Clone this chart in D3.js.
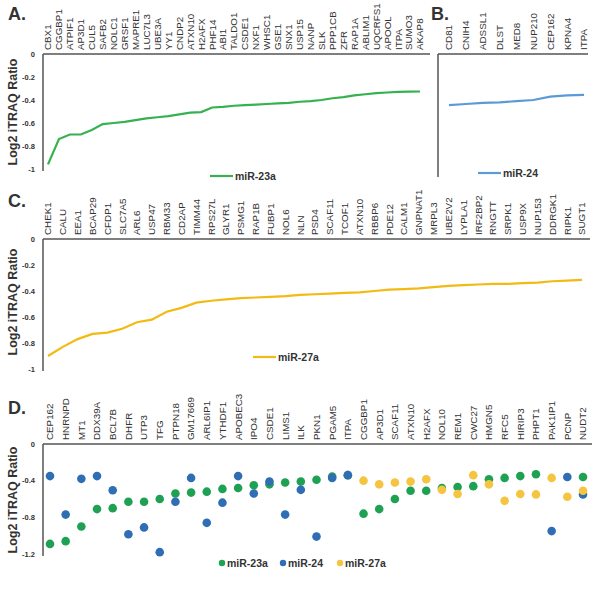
<!DOCTYPE html>
<html><head><meta charset="utf-8">
<script src="https://cdn.jsdelivr.net/npm/d3@7"></script>
<style>
body{margin:0;background:#fff;}
svg{font-family:"Liberation Sans",Arial,sans-serif;}
</style></head>
<body>
<svg id="c" width="599" height="600"></svg>
<script>
// ---------- DATA ----------
const genesA = ["CBX1","CGGBP1","ATPIF1","AP3D1","CUL5","SAFB2","NOLC1","GRSF1","MAPRE1","LUC7L3","UBE3A","YY1","CNDP2","ATXN10","H2AFX","PHF14","ABI1","TALDO1","CSDE1","NXF1","WHSC1","GSE1","SNX1","USP15","NANP","SLK","PPP1CB","ZFR","RAP1A","ABLIM1","UQCRFS1","APOOL","ITPA","SUMO3","AKAP8"];
const valuesA = [-0.96,-0.74,-0.70,-0.70,-0.66,-0.61,-0.60,-0.59,-0.575,-0.56,-0.55,-0.54,-0.525,-0.51,-0.505,-0.465,-0.46,-0.45,-0.445,-0.44,-0.435,-0.43,-0.425,-0.415,-0.41,-0.40,-0.385,-0.375,-0.36,-0.35,-0.34,-0.335,-0.33,-0.328,-0.326];

const genesB = ["CD81","CNIH4","ADSSL1","DLST","MED8","NUP210","CEP162","KPNA4","ITPA"];
const valuesB = [-0.445,-0.435,-0.425,-0.42,-0.41,-0.40,-0.37,-0.36,-0.355];

const genesC = ["CHEK1","CALU","EEA1","BCAP29","CFDP1","SLC7A5","ARL6","USP47","RBM33","CD2AP","TIMM44","RPS27L","GLYR1","PSMG1","RAP1B","FUBP1","NOL6","NLN","PSD4","SCAF11","TCOF1","ATXN10","RBBP6","PDE12","CALM1","GNPNAT1","MRPL3","UBE2V2","LYPLA1","IRF2BP2","RNGTT","SRPK1","USP9X","NUP153","DDRGK1","RIPK1","SUGT1"];
const valuesC = [-0.90,-0.83,-0.77,-0.73,-0.72,-0.69,-0.64,-0.62,-0.56,-0.53,-0.49,-0.475,-0.465,-0.455,-0.45,-0.445,-0.44,-0.43,-0.425,-0.42,-0.415,-0.41,-0.40,-0.39,-0.385,-0.38,-0.37,-0.36,-0.355,-0.35,-0.345,-0.345,-0.34,-0.335,-0.325,-0.32,-0.315];

const genesD = ["CEP162","HNRNPD","MT1","DDX39A","BCL7B","DHFR","UTP3","TFG","PTPN18","GM17669","ARL6IP1","YTHDF1","APOBEC3","IPO4","CSDE1","LIMS1","ILK","PKN1","PGAM5","ITPA","CGGBP1","AP3D1","SCAF11","ATXN10","H2AFX","NOL10","REM1","CWC27","HMGN5","RFC5","HIRIP3","PHPT1","PAK1IP1","PCNP","NUDT2"];
const d23a = [-1.09,-1.06,-0.90,-0.71,-0.70,-0.63,-0.63,-0.60,-0.54,-0.53,-0.52,-0.49,-0.48,-0.45,-0.44,-0.42,-0.41,-0.39,-0.355,-0.34,-0.76,-0.71,-0.60,-0.51,-0.51,-0.48,-0.47,-0.46,-0.385,-0.37,-0.35,-0.33,null,null,-0.36];
const d24 = [-0.35,-0.77,-0.38,-0.35,-0.505,-0.985,-0.91,-1.18,-0.63,-0.37,-0.86,-0.64,-0.35,-0.54,-0.41,-0.77,-0.50,-1.01,-0.37,-0.34,null,null,null,null,null,null,null,null,null,null,null,null,-0.95,-0.36,-0.55];
const d27a = [null,null,null,null,null,null,null,null,null,null,null,null,null,null,null,null,null,null,null,null,-0.40,-0.44,-0.42,-0.41,-0.385,-0.50,-0.545,-0.34,-0.44,-0.62,-0.545,-0.55,-0.37,-0.575,-0.51];

const ticksAC = [0,-0.2,-0.4,-0.6,-0.8,-1];
const ticksD = [0,-0.4,-0.8,-1.2];
const seriesNames = ["miR-23a","miR-24","miR-27a"];
// ---------- STYLE ----------
const colLine = {"miR-23a":"#35b24f","miR-24":"#5b9bd5","miR-27a":"#f2ba12"};
const colDot = {"miR-23a":"#1fa153","miR-24":"#2f6db5","miR-27a":"#f5c440"};
const axisCol = "#555";
const svg = d3.select("#c");

function fmt(v){ return v===0 ? "0" : String(v); }

function yAxis(g, y, x0, ticks, y0, y1, showLabels){
  g.append("line").attr("x1",x0).attr("x2",x0).attr("y1",y0).attr("y2",y1)
    .attr("stroke",axisCol).attr("stroke-width",1.5);
  if(showLabels){
    g.selectAll(null).data(ticks).join("text")
      .attr("x",x0-8).attr("y",d=>y(d)).attr("dy","0.35em")
      .attr("text-anchor","end").attr("font-size",7.5).attr("font-weight","bold")
      .attr("fill","#333").text(fmt);
  }
}
function topAxis(g, x, genes, yTop, xStart, xEnd){
  g.append("line").attr("x1",xStart).attr("x2",xEnd).attr("y1",yTop).attr("y2",yTop)
    .attr("stroke",axisCol).attr("stroke-width",1.5);
  g.selectAll(null).data(genes).join("text")
    .attr("transform",d=>`translate(${x(d)+3.4},${yTop-4}) rotate(-90)`)
    .attr("font-size",9.8).attr("fill","#333").text(d=>d);
}
function yTitle(g, cx, cy){
  g.append("text").attr("transform",`translate(${cx},${cy}) rotate(-90)`)
    .attr("text-anchor","middle").attr("font-size",12.5).attr("font-weight","bold")
    .attr("fill","#333").text("Log2 iTRAQ Ratio");
}
function panelLetter(t,x,y){
  svg.append("text").attr("x",x).attr("y",y).attr("font-size",18).attr("font-weight","bold")
    .attr("fill","#333").text(t);
}
function lineLegend(g,x,y,name){
  g.append("line").attr("x1",x).attr("x2",x+23).attr("y1",y).attr("y2",y)
    .attr("stroke",colLine[name]).attr("stroke-width",2.2);
  g.append("text").attr("x",x+25).attr("y",y).attr("dy","0.35em").attr("font-size",10.5)
    .attr("font-weight","bold").attr("fill","#333").text(name);
}

// ---------- Panel A ----------
{
  const g = svg.append("g");
  const x = d3.scalePoint().domain(genesA).range([48,420]);
  const y = d3.scaleLinear().domain([0,-1]).range([54,169]);
  yAxis(g,y,43,ticksAC,54,171,true);
  topAxis(g,x,genesA,54,43,430);
  g.append("path").datum(valuesA).attr("fill","none").attr("stroke",colLine["miR-23a"]).attr("stroke-width",2.2)
    .attr("d",d3.line().x((d,i)=>x(genesA[i])).y(d=>y(d)));
  yTitle(g,17,112);
  lineLegend(g,210,176,"miR-23a");
  panelLetter("A.",8,20);
}
// ---------- Panel B ----------
{
  const g = svg.append("g");
  const x = d3.scalePoint().domain(genesB).range([449,584]);
  const y = d3.scaleLinear().domain([0,-1]).range([54,169]);
  yAxis(g,y,438,ticksAC,54,177,false);
  topAxis(g,x,genesB,54,438,588);
  g.append("path").datum(valuesB).attr("fill","none").attr("stroke",colLine["miR-24"]).attr("stroke-width",2.2)
    .attr("d",d3.line().x((d,i)=>x(genesB[i])).y(d=>y(d)));
  lineLegend(g,478,173,"miR-24");
  panelLetter("B.",431,20);
}
// ---------- Panel C ----------
{
  const g = svg.append("g");
  const x = d3.scalePoint().domain(genesC).range([48,582]);
  const y = d3.scaleLinear().domain([0,-1]).range([239,369]);
  yAxis(g,y,43,ticksAC,239,371,true);
  topAxis(g,x,genesC,239,43,590);
  g.append("path").datum(valuesC).attr("fill","none").attr("stroke",colLine["miR-27a"]).attr("stroke-width",2.2)
    .attr("d",d3.line().x((d,i)=>x(genesC[i])).y(d=>y(d)));
  yTitle(g,17,302);
  lineLegend(g,253,357,"miR-27a");
  panelLetter("C.",8,207);
}
// ---------- Panel D ----------
{
  const g = svg.append("g");
  const x = d3.scalePoint().domain(genesD).range([50,583]);
  const y = d3.scaleLinear().domain([0,-1.2]).range([444,554]);
  yAxis(g,y,43,ticksD,444,556,true);
  topAxis(g,x,genesD,444,43,592);
  const sets = [["miR-23a",d23a],["miR-24",d24],["miR-27a",d27a]];
  sets.forEach(([name,vals])=>{
    g.selectAll(null).data(vals.map((v,i)=>({g:genesD[i],v})).filter(d=>d.v!==null)).join("circle")
      .attr("cx",d=>x(d.g)).attr("cy",d=>y(d.v)).attr("r",4.3).attr("fill",colDot[name]);
  });
  yTitle(g,17,500);
  const lx = [222,283,340];
  seriesNames.forEach((n,i)=>{
    g.append("circle").attr("cx",lx[i]).attr("cy",563).attr("r",3.2).attr("fill",colDot[n]);
    g.append("text").attr("x",lx[i]+5).attr("y",563).attr("dy","0.35em").attr("font-size",10.5)
      .attr("font-weight","bold").attr("fill","#333").text(n);
  });
  panelLetter("D.",8,414);
}
</script>
</body></html>
